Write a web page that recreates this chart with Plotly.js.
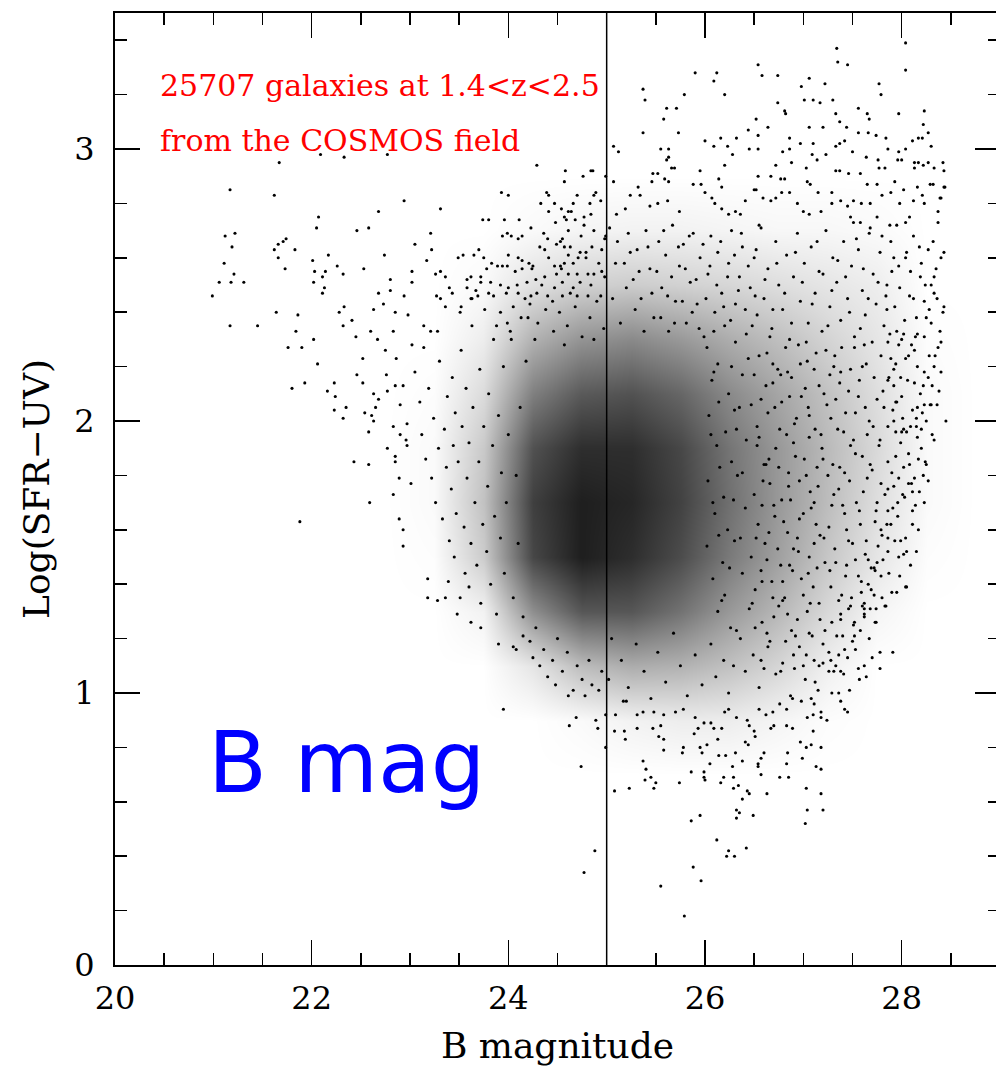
<!DOCTYPE html>
<html><head><meta charset="utf-8">
<script src="https://cdn.plot.ly/plotly-3.0.1.min.js"></script>
<style>html,body{margin:0;padding:0;overflow:hidden;background:#fff}</style>
</head><body><div id="chart" style="width:1000px;height:1070px"></div>
<script>
// [B magnitude, log(SFR-UV)], grouped by region
const leftOutliers = [[20.99,2.46],[21.06,2.51],[21.11,2.58],[21.12,2.68],[21.17,2.85],[21.17,2.35],[21.18,2.51],[21.19,2.64],[21.21,2.54],[21.22,2.69],[21.31,2.51],[21.45,2.35],[21.62,2.83],[21.62,2.63],[21.64,2.40],[21.66,2.65],[21.66,2.60],[21.67,2.95],[21.71,2.66],[21.73,2.56],[21.74,2.67],[21.76,2.27],[21.80,2.12],[21.83,2.63],[21.84,2.33],[21.86,2.39],[21.88,1.63],[21.90,2.27],[21.93,2.14],[22.01,2.59],[22.02,2.51],[22.02,2.30],[22.03,2.55],[22.05,2.71],[22.06,2.21],[22.07,2.75],[22.09,2.98],[22.11,2.53],[22.11,2.47],[22.13,2.49],[22.14,2.55],[22.16,2.11],[22.17,2.61],[22.23,2.14],[22.23,2.04],[22.24,2.09],[22.26,2.57],[22.28,2.40],[22.32,2.54],[22.32,2.35],[22.32,2.01],[22.33,2.97],[22.33,2.42],[22.35,2.05],[22.41,2.37],[22.43,1.85],[22.45,2.31],[22.46,2.70],[22.46,2.17],[22.52,2.23],[22.52,2.14],[22.53,2.56],[22.54,2.03],[22.58,2.71],[22.58,1.96],[22.58,1.84],[22.59,1.70],[22.60,2.33],[22.61,2.02],[22.63,2.41],[22.63,2.10],[22.63,2.00],[22.65,2.05],[22.67,2.30],[22.68,2.77],[22.68,2.47],[22.68,2.08],[22.73,2.43],[22.74,2.61],[22.75,2.26],[22.76,2.17],[22.77,2.98],[22.77,2.11],[22.77,1.90],[22.80,2.52],[22.80,2.48],[22.83,2.33],[22.83,1.98],[22.83,1.73],[22.85,2.40],[22.85,2.13],[22.85,1.87],[22.85,1.85],[22.86,2.23],[22.89,1.79],[22.89,1.64],[22.90,2.06],[22.90,1.95],[22.93,2.13],[22.93,1.60],[22.93,1.54],[22.94,2.81],[22.94,2.46],[22.96,1.93],[22.97,1.99],[22.97,1.91],[22.98,2.39]];
const leftFlank = [[23.01,1.77],[23.02,2.55],[23.02,2.51],[23.02,2.28],[23.05,2.65],[23.05,2.18],[23.10,2.07],[23.12,1.95],[23.14,2.35],[23.14,2.27],[23.16,1.86],[23.17,2.59],[23.18,1.42],[23.18,1.35],[23.19,2.12],[23.21,2.69],[23.21,2.33],[23.22,2.63],[23.22,1.79],[23.24,2.01],[23.26,2.54],[23.26,1.70],[23.27,2.46],[23.28,2.33],[23.28,1.34],[23.29,1.90],[23.30,2.22],[23.31,2.78],[23.31,2.55],[23.31,2.45],[23.33,1.64],[23.35,1.97],[23.36,2.53],[23.36,2.42],[23.36,1.35],[23.37,1.83],[23.38,2.09],[23.39,1.41],[23.40,2.49],[23.40,1.56],[23.42,1.75],[23.43,2.47],[23.43,2.16],[23.44,1.91],[23.45,1.50],[23.46,2.03],[23.47,1.66],[23.48,1.29],[23.49,2.60],[23.49,1.85],[23.51,2.40],[23.51,1.35],[23.52,2.42],[23.52,2.26],[23.53,1.98],[23.54,2.61],[23.55,1.61],[23.56,1.44],[23.57,2.12],[23.58,2.52],[23.58,2.49],[23.58,1.79],[23.60,1.39],[23.60,1.92],[23.62,2.53],[23.62,2.45],[23.62,1.26],[23.62,1.55],[23.63,2.35],[23.64,2.05],[23.65,2.61],[23.66,1.70],[23.67,2.48],[23.68,1.47],[23.70,2.63],[23.70,1.85],[23.71,2.19],[23.72,1.24],[23.72,1.33],[23.74,1.62],[23.74,2.74],[23.75,1.98],[23.76,2.41],[23.78,1.52],[23.79,1.76],[23.80,2.10],[23.82,1.40],[23.84,1.91],[23.85,2.30],[23.86,1.65],[23.88,1.29],[23.90,1.18],[23.90,2.02],[23.92,1.57],[23.93,1.81],[23.95,2.20],[23.96,1.44],[23.98,1.70],[23.99,2.36],[24.00,1.95],[24.05,1.35],[24.10,1.55],[24.08,1.80],[24.12,2.05],[24.18,2.22],[24.03,2.30],[24.15,1.28],[24.20,2.38]];
const upperWest = [[23.80,2.74],[23.93,2.84],[23.94,2.68],[23.96,2.74],[23.99,2.69],[24.00,2.83],[24.00,2.61],[24.03,2.68],[24.10,2.67],[24.10,2.60],[24.11,2.74],[24.14,2.68],[24.14,2.59],[24.21,2.58],[24.23,2.71],[24.29,2.94],[24.32,2.64],[24.33,2.80],[24.36,2.69],[24.37,2.63],[24.39,2.84],[24.40,2.67],[24.41,2.83],[24.41,2.77],[24.41,2.60],[24.47,2.80],[24.47,2.57],[24.48,2.73],[24.49,2.65],[24.53,2.66],[24.53,2.57],[24.54,2.78],[24.55,2.67],[24.57,2.88],[24.57,2.75],[24.57,2.64],[24.57,2.58],[24.58,2.92],[24.59,2.74],[24.61,2.77],[24.61,2.70],[24.61,2.61],[24.63,2.64],[24.64,2.77],[24.66,2.80],[24.66,2.58],[24.68,2.74],[24.70,2.83],[24.71,2.60],[24.73,2.62],[24.74,2.68],[24.76,2.90],[24.77,2.75],[24.77,2.72],[24.79,2.62],[24.79,2.60],[24.83,2.80],[24.84,2.92],[24.84,2.76],[24.85,2.64],[24.86,2.92],[24.87,2.83],[24.87,2.70],[24.89,2.84],[24.92,2.58],[24.94,2.81],[24.95,2.63],[24.98,2.67],[24.99,2.90],[24.99,2.68],[23.75,2.60],[23.78,2.56],[23.83,2.58],[23.89,2.57],[23.94,2.57],[23.99,2.57],[24.07,2.55],[24.14,2.56],[24.24,2.56],[24.25,2.57],[24.28,2.52],[24.37,2.53],[24.49,2.54],[24.54,2.56],[24.61,2.54],[24.70,2.54],[24.81,2.54],[24.87,2.54],[24.95,2.55],[24.98,2.53],[23.72,2.53],[23.72,2.51],[23.82,2.51],[23.92,2.50],[24.00,2.49],[24.09,2.50],[24.19,2.51],[24.34,2.50],[24.47,2.49],[24.55,2.51],[24.66,2.49],[24.73,2.51],[24.84,2.50],[23.63,2.45],[23.69,2.46],[23.80,2.47],[23.85,2.46],[23.98,2.47],[24.10,2.47],[24.17,2.45],[24.23,2.46],[24.29,2.47],[24.40,2.46],[24.45,2.44],[24.55,2.46],[24.63,2.47],[24.70,2.46],[24.81,2.46],[24.94,2.46],[24.05,2.42],[24.13,2.38],[24.22,2.43],[24.30,2.36],[24.38,2.41],[24.46,2.33],[24.52,2.40],[24.60,2.35],[24.68,2.42],[24.75,2.31],[24.83,2.38],[24.90,2.44],[24.97,2.34],[24.02,2.33],[24.27,2.30],[24.57,2.28],[24.87,2.30],[23.92,2.40],[23.88,2.35]];
const upperEast = [[27.34,3.37],[27.35,3.32],[27.45,3.31],[28.04,3.39],[28.04,3.29],[26.54,3.31],[26.58,3.27],[26.74,3.27],[25.90,3.28],[26.12,3.28],[26.09,3.25],[26.20,3.20],[25.37,3.22],[25.39,3.18],[25.79,3.20],[26.98,3.23],[27.06,3.26],[27.22,3.24],[27.77,3.24],[27.79,3.20],[27.01,3.18],[27.10,3.18],[27.17,3.17],[27.30,3.18],[26.74,3.17],[26.81,3.14],[26.82,3.13],[25.61,3.15],[25.71,3.15],[25.58,3.11],[25.37,3.06],[25.73,3.06],[26.52,3.11],[26.64,3.08],[27.33,3.13],[27.37,3.10],[27.44,3.08],[27.56,3.15],[27.65,3.13],[27.67,3.11],[27.97,3.13],[28.23,3.14],[28.22,3.09],[27.06,3.08],[27.20,3.08],[26.86,3.04],[26.00,3.03],[26.09,3.01],[26.16,3.04],[26.32,3.04],[26.44,3.07],[26.45,3.00],[26.54,3.05],[26.23,3.01],[26.28,2.98],[26.54,3.00],[26.79,2.99],[26.86,3.00],[26.97,3.02],[27.10,3.02],[27.09,2.98],[27.14,2.96],[27.23,2.98],[27.33,3.01],[27.37,3.02],[27.42,3.03],[27.50,2.99],[27.56,3.06],[27.66,3.06],[27.74,3.05],[27.84,3.04],[27.86,3.00],[27.97,2.99],[28.04,3.00],[28.11,3.03],[28.17,3.04],[28.21,3.04],[28.27,3.06],[28.30,3.01],[27.64,2.97],[27.76,2.96],[27.77,2.93],[27.83,2.93],[27.96,2.96],[28.00,2.96],[28.13,2.95],[28.17,2.95],[28.22,2.94],[28.13,2.93],[28.33,2.93],[28.42,2.95],[28.43,2.92],[25.07,3.01],[25.12,2.99],[25.07,2.88],[25.47,2.91],[25.52,2.91],[25.46,2.88],[25.59,2.89],[25.63,2.88],[25.61,2.96],[25.63,2.97],[25.66,2.93],[25.69,2.93],[25.55,3.00],[25.63,3.00],[25.95,2.92],[25.88,2.87],[25.96,2.87],[26.20,2.94],[26.14,2.89],[26.17,2.86],[26.54,2.90],[26.52,2.85],[26.67,2.90],[26.72,2.94],[26.77,2.89],[26.81,2.89],[26.88,2.95],[27.03,2.93],[27.04,2.88],[27.07,2.87],[27.15,2.84],[27.29,2.84],[27.33,2.92],[27.37,2.92],[27.46,2.91],[27.58,2.91],[27.65,2.87],[27.75,2.87],[27.93,2.88],[28.02,2.85],[28.16,2.86],[28.29,2.87],[28.32,2.87],[28.39,2.82],[28.44,2.86],[25.10,2.76],[25.19,2.78],[25.24,2.83],[25.32,2.86],[25.34,2.83],[25.44,2.79],[25.52,2.80],[25.62,2.81],[25.74,2.77],[26.00,2.84],[26.07,2.82],[26.10,2.80],[26.17,2.78],[26.24,2.76],[26.31,2.77],[26.36,2.76],[26.41,2.81],[26.50,2.85],[26.59,2.82],[26.67,2.81],[26.72,2.82],[26.78,2.84],[26.86,2.84],[26.94,2.80],[27.00,2.77],[27.06,2.76],[27.18,2.77],[27.29,2.80],[27.38,2.81],[27.45,2.79],[27.51,2.81],[27.59,2.80],[27.68,2.80],[27.80,2.83],[27.89,2.84],[27.98,2.80],[28.12,2.81],[28.21,2.83],[28.23,2.80],[28.37,2.77],[28.08,2.75],[28.04,2.73],[27.95,2.72],[27.88,2.72],[27.75,2.75],[27.68,2.71],[27.58,2.73],[27.51,2.73],[27.48,2.75],[28.27,2.95],[28.43,2.86],[28.40,2.82],[28.37,2.73]];
const upperBand = [[25.03,2.71],[25.11,2.66],[25.18,2.58],[25.22,2.69],[25.27,2.52],[25.31,2.63],[25.35,2.45],[25.40,2.70],[25.44,2.56],[25.48,2.38],[25.53,2.66],[25.56,2.49],[25.60,2.61],[25.63,2.33],[25.67,2.72],[25.70,2.44],[25.74,2.57],[25.78,2.65],[25.81,2.36],[25.85,2.51],[25.88,2.69],[25.92,2.43],[25.95,2.60],[25.99,2.31],[26.03,2.54],[26.06,2.68],[26.10,2.40],[26.13,2.62],[26.17,2.47],[26.20,2.35],[26.24,2.58],[26.27,2.70],[26.31,2.43],[26.35,2.53],[26.38,2.64],[26.42,2.32],[26.46,2.49],[26.50,2.60],[26.53,2.39],[26.57,2.71],[26.60,2.45],[26.64,2.56],[26.68,2.34],[26.72,2.66],[26.75,2.50],[26.79,2.41],[26.83,2.61],[26.86,2.30],[26.90,2.53],[26.94,2.69],[26.97,2.44],[27.01,2.58],[27.05,2.36],[27.08,2.64],[27.12,2.47],[27.16,2.55],[27.19,2.33],[27.23,2.70],[27.27,2.42],[27.30,2.60],[27.34,2.51],[27.38,2.37],[27.41,2.66],[27.45,2.45],[27.49,2.57],[27.52,2.31],[27.56,2.63],[27.60,2.48],[27.63,2.39],[27.67,2.69],[27.71,2.54],[27.74,2.43],[27.78,2.62],[27.82,2.35],[27.85,2.50],[27.89,2.66],[27.93,2.42],[27.97,2.57],[28.00,2.30],[28.04,2.60],[28.08,2.46],[28.12,2.68],[28.15,2.38],[28.19,2.53],[28.23,2.44],[28.27,2.63],[28.30,2.36],[28.35,2.56],[28.05,2.62],[28.20,2.58],[28.30,2.50],[27.90,2.55],[28.12,2.45],[27.85,2.41],[28.25,2.38],[27.95,2.33],[28.10,2.28],[28.28,2.24],[28.32,2.66],[28.43,2.62],[28.40,2.60],[28.33,2.53],[28.33,2.47],[28.43,2.42],[28.42,2.40],[28.39,2.33],[28.37,2.27],[25.06,2.45],[25.09,2.58],[25.14,2.36],[25.20,2.49],[25.24,2.62],[25.29,2.41],[25.33,2.55],[25.38,2.33],[25.42,2.64],[25.46,2.47],[25.51,2.55],[25.55,2.38],[25.58,2.70],[25.62,2.46],[25.66,2.53],[25.69,2.36],[25.73,2.64],[25.77,2.44],[25.80,2.56],[25.84,2.68],[25.87,2.40],[25.91,2.52],[25.94,2.34],[25.98,2.65],[26.01,2.45],[26.05,2.57],[26.09,2.33],[26.12,2.50],[26.16,2.66],[26.19,2.42],[26.23,2.53],[26.26,2.37],[26.30,2.61],[26.34,2.48],[26.37,2.69],[26.41,2.41],[26.44,2.57],[26.48,2.35],[26.51,2.46],[26.55,2.72]];
const eastCloud = [[26.02,2.27],[26.13,2.21],[26.31,2.29],[26.44,2.23],[26.63,2.25],[26.74,2.19],[26.95,2.28],[27.04,2.22],[27.23,2.26],[27.31,2.20],[27.52,2.27],[27.64,2.21],[27.79,2.24],[28.04,2.23],[26.07,2.15],[26.24,2.10],[26.38,2.17],[26.57,2.08],[26.69,2.14],[26.88,2.16],[26.98,2.09],[27.16,2.13],[27.27,2.17],[27.46,2.11],[27.57,2.15],[27.75,2.08],[27.87,2.16],[28.19,2.10],[26.04,2.02],[26.21,1.96],[26.35,2.05],[26.53,1.98],[26.64,2.03],[26.83,1.95],[26.93,2.01],[27.12,1.97],[27.24,2.06],[27.41,1.96],[27.53,2.03],[27.71,1.98],[27.82,2.05],[28.09,1.98],[26.12,1.91],[26.27,1.85],[26.42,1.93],[26.60,1.84],[26.72,1.90],[26.90,1.92],[27.01,1.86],[27.19,1.90],[27.30,1.84],[27.48,1.91],[27.60,1.87],[27.78,1.93],[28.17,1.86],[26.03,1.78],[26.19,1.72],[26.33,1.80],[26.50,1.73],[26.66,1.77],[26.78,1.71],[26.96,1.78],[27.07,1.74],[27.25,1.80],[27.36,1.75],[27.54,1.70],[27.65,1.79],[27.83,1.73],[28.07,1.77],[26.10,1.66],[26.23,1.60],[26.41,1.68],[26.54,1.62],[26.71,1.65],[26.84,1.59],[27.00,1.66],[27.13,1.62],[27.29,1.69],[27.44,1.60],[27.57,1.67],[27.73,1.63],[27.91,1.68],[26.02,1.54],[26.18,1.48],[26.30,1.56],[26.47,1.50],[26.61,1.55],[26.77,1.47],[26.90,1.53],[27.06,1.50],[27.21,1.57],[27.33,1.48],[27.50,1.55],[27.63,1.51],[27.86,1.52],[26.08,1.42],[26.20,1.36],[26.38,1.44],[26.51,1.38],[26.68,1.41],[26.81,1.35],[26.98,1.42],[27.10,1.39],[27.27,1.45],[27.39,1.36],[27.56,1.43],[27.69,1.38],[26.13,1.30],[26.26,1.24],[26.45,1.31],[26.58,1.26],[26.75,1.32],[26.88,1.23],[27.04,1.30],[27.17,1.27],[27.34,1.21],[27.46,1.31],[27.58,1.23],[26.06,1.18],[26.19,1.12],[26.36,1.20],[26.49,1.14],[26.66,1.19],[26.79,1.11],[26.96,1.17],[27.09,1.21],[27.26,1.15],[26.11,1.06],[26.24,1.00],[26.41,1.08],[26.55,1.02],[26.72,1.07],[26.87,0.99],[27.02,1.05],[26.09,2.18],[26.27,2.20],[26.50,2.17],[26.69,2.21],[26.84,2.18],[27.11,2.19],[27.38,2.18],[27.60,2.20],[27.92,2.19],[26.14,2.07],[26.30,2.04],[26.47,2.06],[26.78,2.07],[27.05,2.05],[27.33,2.08],[27.63,2.05],[27.95,2.07],[26.06,1.95],[26.32,1.97],[26.55,1.94],[26.76,1.97],[27.06,1.94],[27.35,1.97],[27.65,1.95],[28.00,1.96],[26.15,1.83],[26.38,1.81],[26.62,1.84],[26.85,1.81],[27.14,1.83],[27.42,1.81],[27.70,1.82],[26.08,1.70],[26.29,1.71],[26.58,1.69],[26.87,1.71],[27.11,1.70],[27.40,1.69],[27.75,1.70],[26.14,1.58],[26.36,1.57],[26.65,1.59],[26.94,1.57],[27.17,1.58],[27.46,1.56],[27.80,1.58],[26.25,1.46],[26.57,1.45],[26.86,1.47],[27.14,1.46],[27.44,1.47],[27.73,1.45],[26.17,1.34],[26.48,1.33],[26.79,1.34],[27.07,1.33],[27.36,1.34],[27.62,1.33],[26.32,1.23],[26.63,1.22],[26.92,1.21],[27.22,1.23],[26.29,1.10],[26.60,1.09],[26.91,1.09],[27.16,1.10]];
const eastFill = [[26.52,2.63],[26.61,2.52],[26.69,2.41],[26.73,2.58],[26.81,2.47],[26.88,2.36],[26.92,2.62],[26.99,2.51],[27.03,2.29],[27.09,2.43],[27.14,2.66],[27.20,2.54],[27.25,2.35],[27.29,2.48],[27.35,2.59],[27.39,2.27],[27.43,2.53],[27.47,2.40],[27.54,2.67],[27.58,2.34],[27.61,2.56],[27.66,2.45],[27.70,2.29],[27.76,2.51],[27.80,2.68],[27.84,2.46],[27.88,2.32],[27.92,2.60],[27.98,2.49],[28.03,2.37],[28.09,2.55],[28.14,2.31],[28.18,2.64],[28.24,2.50],[28.28,2.41],[28.36,2.45],[26.55,2.24],[26.62,2.13],[26.66,2.31],[26.71,2.05],[26.77,2.17],[26.82,2.27],[26.86,2.09],[26.91,1.99],[26.97,2.21],[27.02,2.12],[27.06,2.02],[27.13,2.25],[27.18,1.95],[27.21,2.10],[27.28,2.01],[27.32,2.24],[27.37,2.14],[27.43,2.03],[27.48,2.19],[27.51,1.93],[27.56,2.09],[27.62,2.28],[27.67,2.00],[27.72,2.16],[27.77,1.91],[27.81,2.11],[27.89,2.23],[27.94,1.96],[28.00,2.09],[28.06,2.15],[28.13,2.26],[28.21,2.03],[28.27,2.16],[28.33,1.93],[28.38,2.11],[26.53,1.91],[26.59,1.78],[26.65,1.86],[26.70,1.69],[26.75,1.83],[26.80,1.63],[26.85,1.76],[26.92,1.87],[26.96,1.64],[27.03,1.80],[27.08,1.68],[27.15,1.76],[27.20,1.86],[27.26,1.61],[27.31,1.73],[27.37,1.83],[27.42,1.66],[27.47,1.78],[27.53,1.88],[27.58,1.62],[27.61,1.74],[27.68,1.84],[27.74,1.67],[27.79,1.77],[27.85,1.62],[27.90,1.81],[27.96,1.65],[28.03,1.72],[28.08,1.84],[28.14,1.69],[28.20,1.90],[28.27,1.78],[28.31,1.95],[28.17,1.60],[26.52,1.57],[26.58,1.41],[26.63,1.49],[26.69,1.35],[26.74,1.53],[26.79,1.41],[26.84,1.29],[26.89,1.45],[26.95,1.52],[27.00,1.36],[27.05,1.44],[27.11,1.55],[27.16,1.33],[27.22,1.48],[27.28,1.39],[27.32,1.53],[27.38,1.29],[27.43,1.43],[27.49,1.35],[27.53,1.49],[27.59,1.41],[27.64,1.56],[27.68,1.31],[27.75,1.48],[27.80,1.35],[27.87,1.44],[27.93,1.56],[27.98,1.43],[28.09,1.47],[28.15,1.52],[26.51,1.24],[26.57,1.12],[26.64,1.17],[26.70,1.28],[26.77,1.08],[26.82,1.19],[26.90,1.14],[26.94,1.27],[27.00,1.10],[27.06,1.22],[27.12,1.04],[27.20,1.18],[27.29,1.26],[27.33,1.10],[27.40,1.21],[27.45,1.13],[27.53,1.16],[27.57,1.05],[27.67,1.20],[27.70,1.13]];
const eastEdge = [[28.45,2.00],[28.40,2.29],[28.34,2.24],[28.40,2.18],[28.33,2.20],[28.23,2.18],[28.30,2.06],[28.23,2.06],[28.24,1.85],[28.23,1.70],[28.18,1.74],[28.11,1.74],[28.11,1.67],[28.04,1.57],[27.99,1.56],[28.02,1.51],[27.97,1.50],[28.04,1.39],[27.95,1.37],[27.90,1.37],[27.83,1.32],[27.74,1.26],[27.60,1.32],[27.69,1.46],[27.66,1.49],[28.22,1.80],[28.13,1.79],[28.10,1.77],[28.16,1.94],[28.15,1.98],[28.20,1.97],[28.05,1.96],[28.01,2.01],[28.15,2.01],[28.16,2.05],[28.11,2.04],[28.13,2.14],[28.22,2.13],[28.16,2.20],[28.23,2.31],[28.16,2.32],[28.02,2.32],[27.97,2.28],[27.86,2.29],[28.07,2.24],[27.94,2.21],[27.99,2.16],[27.92,2.13],[27.86,2.15],[27.94,2.07],[27.91,2.04],[27.92,2.00],[27.86,1.98],[28.02,1.97],[27.99,1.92],[28.07,1.88],[27.94,1.87],[27.86,1.85],[28.02,1.83],[27.97,1.79],[27.92,1.76],[27.86,1.75],[28.01,1.73],[27.96,1.70],[27.86,1.67],[27.89,1.62],[27.79,1.60],[27.86,1.57],[27.76,1.54],[27.81,1.49],[27.72,1.46],[27.79,1.43],[27.66,1.40],[27.59,1.37],[27.72,1.36],[27.62,1.31],[27.52,1.26],[28.31,2.13],[28.29,2.06],[28.36,2.06],[28.25,2.00],[28.25,1.84],[28.11,1.62],[28.05,1.52],[28.05,1.39],[27.91,1.15],[27.78,1.15],[27.78,1.09],[27.64,1.06],[27.56,1.09],[27.62,1.10],[27.62,1.28],[27.73,1.26],[27.62,1.29],[27.74,1.31],[27.84,1.32],[27.38,1.27],[27.51,1.25],[27.48,1.32],[27.50,1.19],[27.52,1.21]];
const lowerTail = [[24.05,1.17],[24.08,1.16],[24.25,1.13],[24.32,1.10],[24.40,1.06],[24.61,0.99],[24.66,1.01],[24.78,0.99],[24.92,1.01],[24.62,0.88],[24.69,0.91],[24.89,0.90],[24.91,0.87],[24.99,0.92],[25.09,0.92],[25.08,0.86],[24.99,0.80],[24.74,0.73],[25.08,0.64],[24.88,0.42],[24.77,0.34],[23.95,0.94],[24.15,1.21],[24.22,1.19],[24.28,1.24],[24.36,1.16],[24.45,1.12],[24.50,1.20],[24.55,1.08],[24.60,1.15],[24.70,1.10],[24.75,1.05],[24.82,1.12],[24.85,1.03],[24.95,1.08],[25.02,1.05],[24.48,1.03],[25.05,1.20],[25.15,1.12],[25.22,1.02],[25.30,1.18],[25.38,1.08],[25.45,0.98],[25.52,1.15],[25.60,1.04],[25.68,1.22],[25.75,1.10],[25.82,0.99],[25.90,1.14],[25.97,1.03],[25.37,0.75],[25.40,0.72],[25.39,0.68],[25.45,0.69],[25.50,0.67],[25.48,0.65],[25.23,0.65],[25.74,0.67],[25.86,0.71],[25.99,0.71],[25.99,0.69],[26.00,0.68],[26.16,0.67],[26.19,0.69],[26.29,0.65],[26.29,0.69],[26.34,0.66],[26.43,0.64],[26.45,0.63],[26.38,0.61],[26.63,0.63],[26.76,0.69],[26.85,0.69],[26.83,0.74],[26.57,0.70],[26.54,0.73],[27.03,0.65],[27.18,0.63],[27.13,0.73],[27.18,0.72],[27.04,0.57],[27.20,0.57],[27.02,0.52],[25.86,0.53],[25.95,0.55],[26.12,0.46],[26.24,0.42],[26.22,0.40],[26.30,0.40],[26.42,0.43],[26.32,0.57],[26.35,0.56],[26.32,0.54],[26.49,0.55],[25.88,0.36],[25.96,0.31],[25.55,0.29],[25.79,0.18],[27.47,1.01],[27.45,0.93],[27.42,0.94],[27.38,0.97],[27.36,1.00],[27.29,1.00],[27.24,0.90],[27.18,0.91],[27.18,0.80],[27.10,0.86],[27.08,0.81],[27.03,0.80],[26.99,0.76],[26.97,0.82],[27.10,0.92],[27.04,0.91],[27.18,0.93],[26.89,0.87],[26.83,0.88],[26.84,0.78],[26.67,0.87],[26.70,0.88],[26.60,0.78],[26.57,0.76],[26.54,0.74],[26.51,0.84],[26.50,0.86],[26.44,0.81],[26.41,0.82],[26.38,0.75],[26.31,0.78],[26.28,0.73],[26.21,0.77],[26.14,0.77],[26.13,0.83],[26.05,0.74],[26.02,0.81],[25.97,0.78],[25.95,0.80],[25.78,0.80],[25.77,0.78],[25.58,0.79],[25.58,0.83],[25.53,0.84],[25.47,0.87],[25.55,0.88],[25.19,0.83],[25.18,0.86],[25.31,0.87],[25.20,0.97],[25.17,0.97],[25.31,0.92],[25.37,0.93],[25.48,0.93],[25.58,0.92],[25.70,0.93],[25.78,0.94],[25.90,0.91],[25.93,0.87],[25.89,0.85],[25.99,0.89],[26.06,0.89],[26.09,0.87],[26.17,0.87],[26.20,0.93],[26.24,0.94],[26.32,0.91],[26.43,0.90],[26.45,0.88],[26.55,0.94],[26.62,0.92],[26.69,0.93],[26.76,0.96],[26.83,0.94],[26.89,0.98],[26.98,0.97],[27.08,0.98],[27.11,0.96],[27.15,1.01],[27.03,1.14],[27.11,1.12],[27.20,1.11],[27.28,1.12],[27.36,1.14],[27.42,1.16],[27.26,1.08],[27.31,1.08],[27.38,1.08],[27.41,1.07]];

// darkness of the densely packed core (0 = white, 1 = black)
const densityBmag = [22.25,22.75,23.25,23.75,24.25,24.75,25.25,25.75,26.25,26.75,27.25,27.75,28.25,28.75];
const densityLogSfr = [0.1,0.3,0.5,0.7,0.9,1.1,1.3,1.5,1.7,1.9,2.1,2.3,2.5,2.7,2.9,3.1,3.3];
const densityShade = [
 [0,0,0,0,0,0,0,0,0,0,0,0,0,0],
 [0,0,0,0,0,0,0,0,0,0,0,0,0,0],
 [0,0,0,0,0,0,0,0,0,0,0,0,0,0],
 [0,0,0,0,0,0,0,0,0,0,0,0,0,0],
 [0,0,0,0,0,0.02,0.05,0.07,0.07,0.04,0.01,0,0,0],
 [0,0,0,0,0.10,0.26,0.32,0.30,0.24,0.16,0.06,0,0,0],
 [0,0,0,0.05,0.44,0.66,0.66,0.55,0.40,0.28,0.15,0.04,0,0],
 [0,0,0.01,0.20,0.72,0.88,0.82,0.70,0.52,0.37,0.22,0.10,0.01,0],
 [0,0,0.02,0.24,0.75,0.88,0.85,0.74,0.56,0.40,0.26,0.13,0.02,0],
 [0,0,0.02,0.21,0.68,0.82,0.82,0.72,0.54,0.40,0.27,0.15,0.02,0],
 [0,0,0.01,0.14,0.50,0.65,0.68,0.60,0.46,0.35,0.24,0.13,0.02,0],
 [0,0,0,0.07,0.30,0.42,0.46,0.40,0.32,0.25,0.17,0.10,0.01,0],
 [0,0,0,0.02,0.12,0.18,0.20,0.18,0.16,0.13,0.10,0.07,0,0],
 [0,0,0,0,0.02,0.04,0.05,0.05,0.04,0.03,0.03,0.02,0,0],
 [0,0,0,0,0,0,0,0,0,0,0,0,0,0],
 [0,0,0,0,0,0,0,0,0,0,0,0,0,0],
 [0,0,0,0,0,0,0,0,0,0,0,0,0,0]
];

const xTickVals = [20,22,24,26,28];
const yTickVals = [0,1,2,3];
const cutMagnitude = 25;

const galaxies = [].concat(leftOutliers, leftFlank, upperWest, upperEast, upperBand, eastCloud, eastFill, eastEdge, lowerTail);

const traces = [
  {type:'heatmap', x:densityBmag, y:densityLogSfr, z:densityShade, zmin:0, zmax:1, zsmooth:'best',
   colorscale:[[0,'#ffffff'],[1,'#000000']], showscale:false, hoverinfo:'skip'},
  {type:'scatter', mode:'markers', x:galaxies.map(p=>p[0]), y:galaxies.map(p=>p[1]),
   marker:{size:3.1, color:'#000000', line:{width:0}}, hoverinfo:'skip'}
];

const tickStyle = {ticks:'inside', tickcolor:'#000', tickwidth:1.5, showline:true, linecolor:'#000', linewidth:2,
  mirror:'allticks', showgrid:false, zeroline:false};

const layout = {
  width:1000, height:1070, margin:{l:115, r:0, t:13, b:105},
  paper_bgcolor:'#ffffff', plot_bgcolor:'#ffffff', showlegend:false,
  font:{family:'DejaVu Serif', color:'#000'},
  xaxis:Object.assign({}, tickStyle, {range:[20,29], tickvals:xTickVals, ticklen:25,
    tickfont:{size:32, family:'DejaVu Serif'}, ticklabelstandoff:4,
    minor:{dtick:0.5, tick0:0, ticks:'inside', ticklen:12, tickwidth:1.5, tickcolor:'#000', showgrid:false},
    title:{text:'B magnitude', font:{size:36, family:'DejaVu Serif'}, standoff:16}}),
  yaxis:Object.assign({}, tickStyle, {range:[0,3.5], tickvals:yTickVals, ticklen:25,
    tickfont:{size:32, family:'DejaVu Serif'}, ticklabelstandoff:12,
    minor:{dtick:0.2, tick0:0, ticks:'inside', ticklen:12, tickwidth:1.5, tickcolor:'#000', showgrid:false},
    title:{text:'Log(SFR\u2212UV)', font:{size:36, family:'DejaVu Serif'}, standoff:14}}),
  shapes:[{type:'line', xref:'x', yref:'y', x0:cutMagnitude, x1:cutMagnitude, y0:0, y1:3.5,
    line:{color:'#000', width:1.5}, layer:'above'}],
  annotations:[
    {xref:'x', yref:'y', x:20.44, y:3.235, xanchor:'left', yanchor:'middle', showarrow:false,
     text:'25707 galaxies at 1.4&lt;z&lt;2.5', font:{family:'DejaVu Serif', size:30, color:'#ff0000'}},
    {xref:'x', yref:'y', x:20.44, y:3.03, xanchor:'left', yanchor:'middle', showarrow:false,
     text:'from the COSMOS field', font:{family:'DejaVu Serif', size:30, color:'#ff0000'}},
    {xref:'x', yref:'y', x:22.35, y:0.745, xanchor:'center', yanchor:'middle', showarrow:false,
     text:'B mag', font:{family:'DejaVu Sans', size:86, color:'#0000ff'}}
  ]
};

Plotly.newPlot('chart', traces, layout, {staticPlot:true, displayModeBar:false});
</script></body></html>
